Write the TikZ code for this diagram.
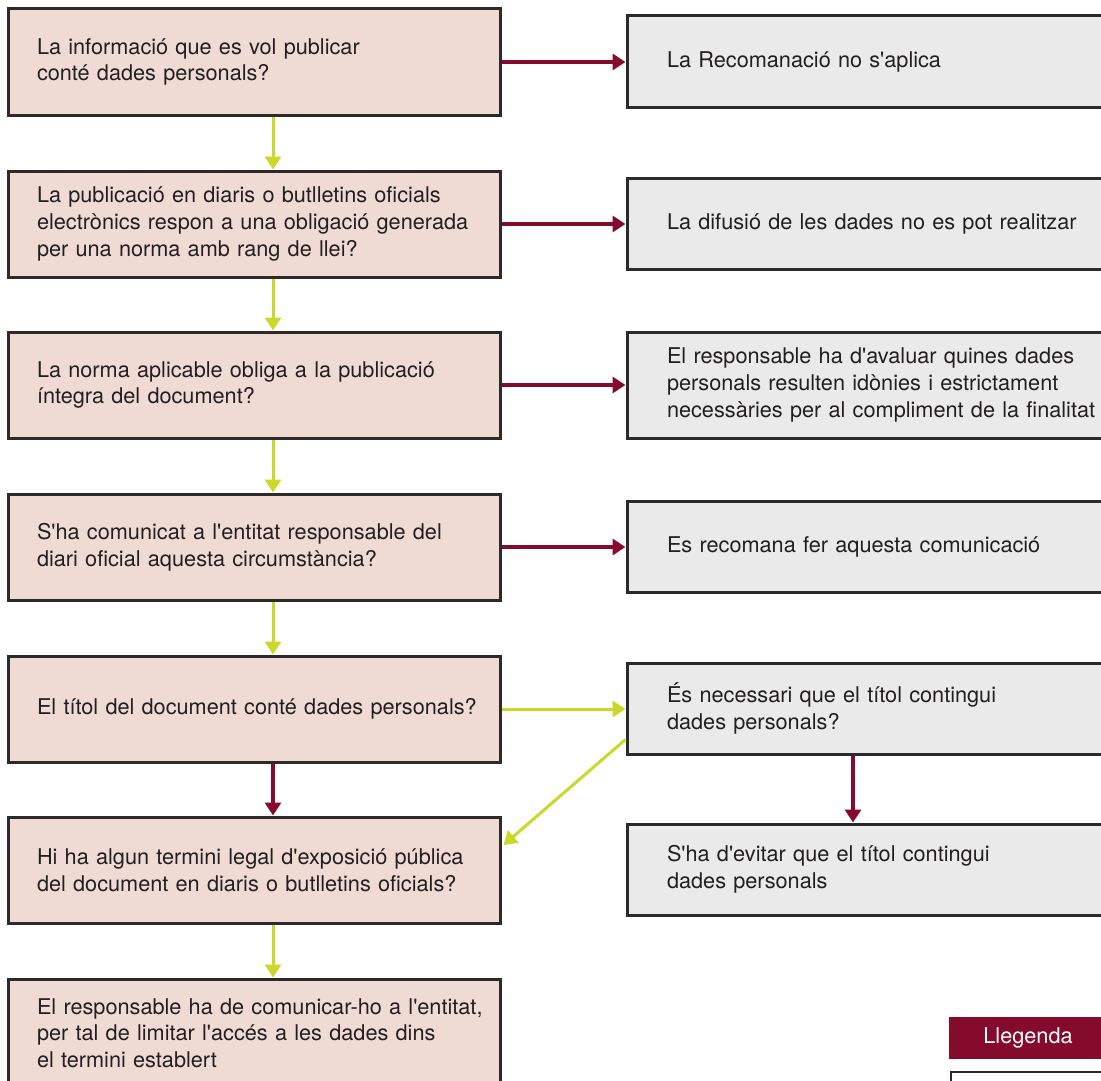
\documentclass[tikz,border=0pt]{standalone}
\usepackage{fontspec}
\setmainfont{TeX Gyre Heros}[Ligatures=TeXOff]
\usetikzlibrary{arrows.meta,calc}
\definecolor{qfill}{RGB}{239,219,212}
\definecolor{afill}{RGB}{233,234,233}
\definecolor{bord}{RGB}{45,42,42}
\definecolor{wine}{RGB}{133,11,44}
\definecolor{lime}{RGB}{202,216,42}
\definecolor{txt}{RGB}{35,31,32}
\newcommand{\oneline}[1]{\mbox{#1}}
\tikzset{
  qbox/.style={draw=bord, line width=3pt, fill=qfill, minimum width=492pt, minimum height=106pt,
    text width=434pt, align=left, inner xsep=29pt, inner ysep=0pt, font=\fontsize{21.7}{26.7}\selectfont, text=txt},
  abox/.style={draw=bord, line width=3pt, fill=afill, minimum width=524pt, minimum height=91pt,
    text width=444pt, align=left, inner xsep=40pt, inner ysep=0pt, font=\fontsize{21.7}{26.7}\selectfont, text=txt},
  redarr/.style={draw=wine, line width=4pt, -{Triangle[length=13pt,width=16pt]}},
  greenarr/.style={draw=lime, line width=3pt, -{Triangle[length=13pt,width=16pt]}},
}
\begin{document}
\begin{tikzpicture}[x=1pt,y=-1pt]
\useasboundingbox (0,0) rectangle (1101,1081);
% left column
\node[qbox] (L1) at (254,62) {\oneline{La informació que es vol publicar}\\\oneline{conté dades personals?}};
\node[qbox] (L2) at (254,224) {\oneline{La publicació en diaris o butlletins oficials}\\\oneline{electrònics respon a una obligació generada}\\\oneline{per una norma amb rang de llei?}};
\node[qbox] (L3) at (254,385) {\oneline{La norma aplicable obliga a la publicació}\\\oneline{íntegra del document?}};
\node[qbox] (L4) at (254,547) {\oneline{S'ha comunicat a l'entitat responsable del}\\\oneline{diari oficial aquesta circumstància?}};
\node[qbox] (L5) at (254,709) {\oneline{El títol del document conté dades personals?}};
\node[qbox] (L6) at (254,870) {\oneline{Hi ha algun termini legal d'exposició pública}\\\oneline{del document en diaris o butlletins oficials?}};
\node[qbox, minimum height=108pt] (L7) at (254,1033) {\oneline{El responsable ha de comunicar-ho a l'entitat,}\\\oneline{per tal de limitar l'accés a les dades dins}\\\oneline{el termini establert}};
% right column
\node[abox] (R1) at (889,61.5) {\oneline{La Recomanació no s'aplica}};
\node[abox] (R2) at (889,223.5) {\oneline{La difusió de les dades no es pot realitzar}};
\node[abox, minimum height=106pt] (R3) at (889,385) {\oneline{El responsable ha d'avaluar quines dades}\\\oneline{personals resulten idònies i estrictament}\\\oneline{necessàries per al compliment de la finalitat}};
\node[abox] (R4) at (889,547) {\oneline{Es recomana fer aquesta comunicació}};
\node[abox] (R5) at (889,708.5) {\oneline{És necessari que el títol contingui}\\\oneline{dades personals?}};
\node[abox] (R6) at (889,869.5) {\oneline{S'ha d'evitar que el títol contingui}\\\oneline{dades personals}};
% legend
\node[fill=wine, minimum width=158pt, minimum height=42pt, inner sep=0pt, text=white,
  font=\fontsize{21.7}{26}\selectfont] (LEG) at (1028,1038) {Llegenda};
\node[draw=bord, line width=2pt, fill=white, minimum width=200pt, minimum height=40pt, anchor=north west] (LEGBOX) at (950,1071) {};
% connectors
\coordinate (xl) at (273,0);
\coordinate (xr) at (853,0);
\draw[redarr] (L1.east) -- (R1.west |- L1.east);
\draw[redarr] (L2.east) -- (R2.west |- L2.east);
\draw[redarr] (L3.east) -- (R3.west |- L3.east);
\draw[redarr] (L4.east) -- (R4.west |- L4.east);
\draw[greenarr] (L5.east) -- (R5.west |- L5.east);
\draw[greenarr] (L1.south -| xl) -- (L2.north -| xl);
\draw[greenarr] (L2.south -| xl) -- (L3.north -| xl);
\draw[greenarr] (L3.south -| xl) -- (L4.north -| xl);
\draw[greenarr] (L4.south -| xl) -- (L5.north -| xl);
\draw[redarr] (L5.south -| xl) -- (L6.north -| xl);
\draw[greenarr] (L6.south -| xl) -- (L7.north -| xl);
\draw[redarr] (R5.south -| xr) -- (R6.north -| xr);
\draw[greenarr] ($(R5.west)+(0,31)$) -- ($(L6.east)+(2,-25)$);
\end{tikzpicture}
\end{document}
